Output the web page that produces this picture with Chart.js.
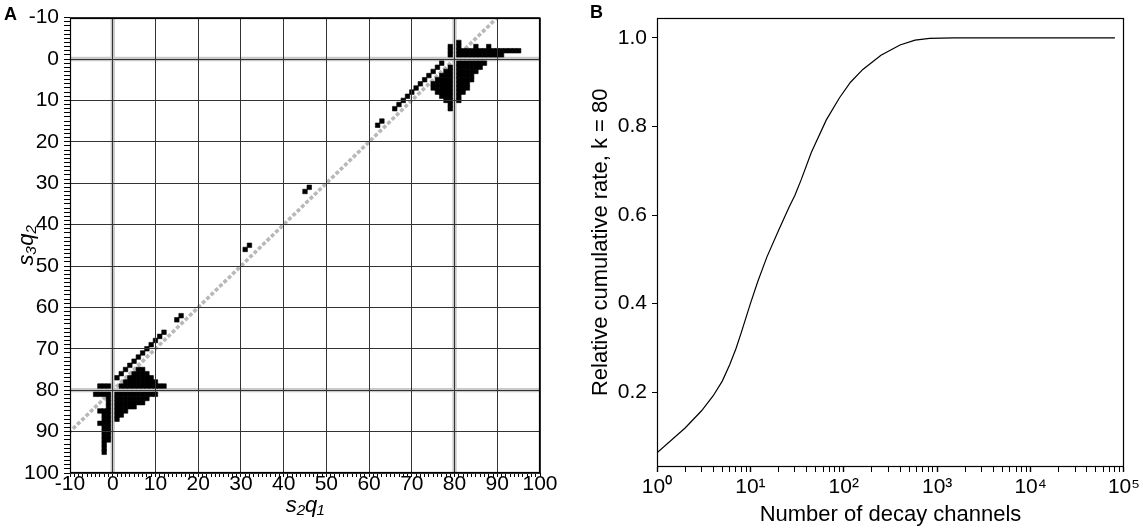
<!DOCTYPE html>
<html><head><meta charset="utf-8">
<script src="https://cdn.jsdelivr.net/npm/chart.js@4/dist/chart.umd.min.js"></script>
<style>
html,body{margin:0;padding:0;background:#fff;}
#wrap{position:relative;width:1143px;height:529px;overflow:hidden;background:#fff;}
#ca{position:absolute;left:0;top:0;width:560px;height:529px;}
#cb{position:absolute;left:560px;top:0;width:583px;height:529px;}
.lbl{position:absolute;font:bold 18px "Liberation Sans",Arial,sans-serif;line-height:1;color:#000;}
</style></head><body>
<div id="wrap">
<canvas id="ca" width="560" height="529"></canvas>
<canvas id="cb" width="583" height="529"></canvas>
<div class="lbl" style="left:4px;top:5px">A</div>
<div class="lbl" style="left:590px;top:3px">B</div>
</div>
<script>
// ---------------- Panel A data ----------------
const axisRangeA = [-10, 100];          // both axes, s2q1 and s3q2
const grayColumnsA = [0, 80];           // grey reference columns (s2q1)
const grayRowsA = [0, 80];              // grey reference rows (s3q2)
const grayDiagonalSumA = 80;            // grey diagonal s2q1 + s3q2 = 80
// black cells as runs: [s3q2 row, first s2q1, last s2q1]
const blackRunsLowerLeft = [
  [62,16,16],[63,15,15],
  [66,12,12],[67,11,11],[68,10,10],[69,9,9],[70,8,8],[71,7,7],[72,6,6],[73,5,5],
  [74,4,4],[75,3,3],[75,6,7],[76,2,2],[76,5,8],[77,1,1],[77,4,9],[78,3,10],
  [79,-3,-1],[79,2,12],
  [81,-4,-1],[81,1,10],
  [82,-1,-1],[82,1,8],
  [83,-1,-1],[83,1,7],
  [84,-1,-1],[84,1,5],
  [85,-3,-1],[85,1,3],
  [86,-2,-1],[86,1,2],
  [87,-2,-1],[87,1,1],
  [88,-3,-1],[89,-2,-1],[90,-2,-1],[91,-2,-1],[92,-2,-1],
  [93,-2,-2],[94,-2,-2],[95,-2,-2]
];
const blackRunsUpperRight = [
  [-4,81,81],
  [-3,79,79],[-3,81,81],[-3,85,85],[-3,88,88],
  [-2,79,79],[-2,81,95],
  [-1,79,79],[-1,81,91],
  [1,77,77],[1,81,87],
  [2,76,76],[2,79,79],[2,81,86],
  [3,75,75],[3,78,79],[3,81,85],
  [4,74,74],[4,77,79],[4,81,84],
  [5,73,73],[5,76,79],[5,81,84],
  [6,72,72],[6,75,79],[6,81,83],
  [7,71,71],[7,75,79],[7,81,83],
  [8,70,70],[8,76,79],[8,81,82],
  [9,69,69],[9,77,79],[9,81,81],
  [10,68,68],[10,78,79],[10,81,81],
  [11,67,67],[11,79,79],
  [12,66,66],[12,79,79],
  [15,63,63],[16,62,62]
];
const blackRunsCentre = [[31,46,46],[32,45,45],[45,32,32],[46,31,31]];

// ---------------- Panel B data ----------------
const decayChannels = [1,2,3,4,5,6,7,8,10,12,15,20,26,30,35,45,65,90,118,160,250,400,580,830,1500,3000,10000,80000];
const cumulativeRate = [0.063,0.119,0.158,0.192,0.225,0.262,0.298,0.335,0.40,0.45,0.505,0.565,0.618,0.645,0.68,0.742,0.815,0.865,0.90,0.929,0.961,0.984,0.995,0.999,1.0,1.0,1.0,1.0];
const rateTicksB = [0.2, 0.4, 0.6, 0.8, 1.0];
const decadesB = [0, 1, 2, 3, 4, 5];

// ---------------- common ----------------
Chart.defaults.font.family = '"Liberation Sans", Arial, Helvetica, sans-serif';
Chart.defaults.font.size = 21;
Chart.defaults.color = '#000';
const titleFont = {size: 22};

const frame = {
  id: 'frame',
  afterDraw(chart) {
    const {ctx, chartArea: a} = chart;
    ctx.save();
    ctx.strokeStyle = '#000';
    ctx.lineWidth = 1.2;
    ctx.strokeRect(Math.round(a.left) + 0.5, Math.round(a.top) + 0.5,
                   Math.round(a.right - a.left) - 1, Math.round(a.bottom - a.top) - 1);
    ctx.restore();
  }
};

function runsToCells(runs) {
  const out = [];
  for (const [y, x0, x1] of runs) for (let x = x0; x <= x1; x++) out.push({x, y});
  return out;
}
const blackCells = runsToCells(blackRunsLowerLeft)
  .concat(runsToCells(blackRunsUpperRight))
  .concat(runsToCells(blackRunsCentre));

const ticksA = [];
for (let v = axisRangeA[0]; v <= axisRangeA[1]; v++) ticksA.push({value: v});

const lo = axisRangeA[0] - 1, hi = axisRangeA[1] + 1;
const bandDatasets = [];
for (const c of grayColumnsA) bandDatasets.push({type: 'line', showLine: true, data: [{x: c, y: lo}, {x: c, y: hi}],
  borderColor: '#c9c9c9', borderWidth: 4.3, pointRadius: 0, clip: 0});
for (const r of grayRowsA) bandDatasets.push({type: 'line', showLine: true, data: [{x: lo, y: r}, {x: hi, y: r}],
  borderColor: '#c9c9c9', borderWidth: 4.3, pointRadius: 0, clip: 0});
const diagDataset = {type: 'line', showLine: true,
  data: [{x: lo, y: grayDiagonalSumA - lo}, {x: grayDiagonalSumA - lo, y: lo}],
  borderColor: '#b8b8b8', borderWidth: 3.6, borderDash: [3.9, 2.1], borderDashOffset: 1.95, pointRadius: 0, clip: 0};

const gridColorA = c => (c.tick && c.tick.value % 10 === 0) ? '#333' : 'rgba(0,0,0,0)';

new Chart(document.getElementById('ca'), {
  type: 'scatter',
  data: {datasets: [
    {type: 'scatter', data: blackCells, pointStyle: 'rect', pointRadius: 3.2, pointHoverRadius: 3.2,
     pointBackgroundColor: '#000', pointBorderColor: '#000', pointBorderWidth: 0.6,
     backgroundColor: '#000', borderColor: '#000', clip: 0},
    diagDataset,
    ...bandDatasets
  ]},
  options: {
    responsive: false, animation: false, events: [],
    layout: {padding: {left: 0, top: 5, right: 20, bottom: 0}},
    plugins: {legend: {display: false}, tooltip: {enabled: false}},
    scales: {
      x: {type: 'linear', min: axisRangeA[0], max: axisRangeA[1],
        afterBuildTicks: s => { s.ticks = ticksA.map(t => ({value: t.value})); },
        afterFit: s => { s.height = 56; },
        ticks: {autoSkip: false, maxRotation: 0, minRotation: 0, padding: -5, color: '#000',
          callback: v => (v % 10 === 0 ? String(v) : '')},
        grid: {z: 1, color: gridColorA, tickColor: '#000', tickLength: 4, lineWidth: 1},
        border: {display: false},
        title: {display: true, text: 's₂q₁', color: '#000', font: {style: 'italic', size: 22}, padding: {top: 0, bottom: 10}}},
      y: {type: 'linear', reverse: true, min: axisRangeA[0], max: axisRangeA[1],
        afterBuildTicks: s => { s.ticks = ticksA.map(t => ({value: t.value})); },
        afterFit: s => { s.width = 70; },
        ticks: {autoSkip: false, padding: 5, color: '#000',
          callback: v => (v % 10 === 0 ? String(v) : '')},
        grid: {z: 1, color: gridColorA, tickColor: '#000', tickLength: 6, lineWidth: 1},
        border: {display: false},
        title: {display: true, text: 's₃q₂', color: '#000', font: {style: 'italic', size: 22}, padding: {top: 14, bottom: 0}}}
    }
  },
  plugins: [frame]
});

const sup = {'0':'⁰','1':'¹','2':'²','3':'³','4':'⁴','5':'⁵'};
const logTicksB = [];
for (const d of decadesB) {
  const base = Math.pow(10, d);
  if (d === decadesB[decadesB.length - 1]) { logTicksB.push(base); break; }
  for (let m = 1; m <= 9; m++) logTicksB.push(m * base);
}
const isPow10 = v => Math.abs(Math.log10(v) - Math.round(Math.log10(v))) < 1e-9;

new Chart(document.getElementById('cb'), {
  type: 'line',
  data: {datasets: [{data: decayChannels.map((n, i) => ({x: n, y: cumulativeRate[i]})),
    borderColor: '#000', borderWidth: 1.2, pointRadius: 0, tension: 0, fill: false}]},
  options: {
    responsive: false, animation: false, events: [],
    layout: {padding: {left: 0, top: 5, right: 16, bottom: 0}},
    plugins: {legend: {display: false}, tooltip: {enabled: false}},
    scales: {
      x: {type: 'logarithmic', min: 1, max: 1e5,
        afterBuildTicks: s => { s.ticks = logTicksB.map(v => ({value: v})); },
        afterFit: s => { s.height = 62; },
        ticks: {autoSkip: false, maxRotation: 0, minRotation: 0, padding: 3, color: '#000',
          callback: v => isPow10(v) ? '10' + sup[String(Math.round(Math.log10(v)))] : ''},
        grid: {drawOnChartArea: false, tickLength: 5, tickColor: '#000',
          tickWidth: c => (c.tick && isPow10(c.tick.value)) ? 1.4 : 1},
        border: {display: false},
        title: {display: true, text: 'Number of decay channels', color: '#000', font: titleFont, padding: {top: 0, bottom: 1}}},
      y: {type: 'linear', min: 0.031, max: 1.046,
        afterBuildTicks: s => { s.ticks = rateTicksB.map(v => ({value: v})); },
        afterFit: s => { s.width = 97; },
        ticks: {padding: 5, color: '#000', callback: v => Number(v).toFixed(1)},
        grid: {drawOnChartArea: false, tickLength: 5, tickColor: '#000'},
        border: {display: false},
        title: {display: true, text: 'Relative cumulative rate, k = 80', color: '#000', font: titleFont, padding: {top: 28, bottom: 0}}}
    }
  },
  plugins: [frame]
});
</script>
</body></html>
